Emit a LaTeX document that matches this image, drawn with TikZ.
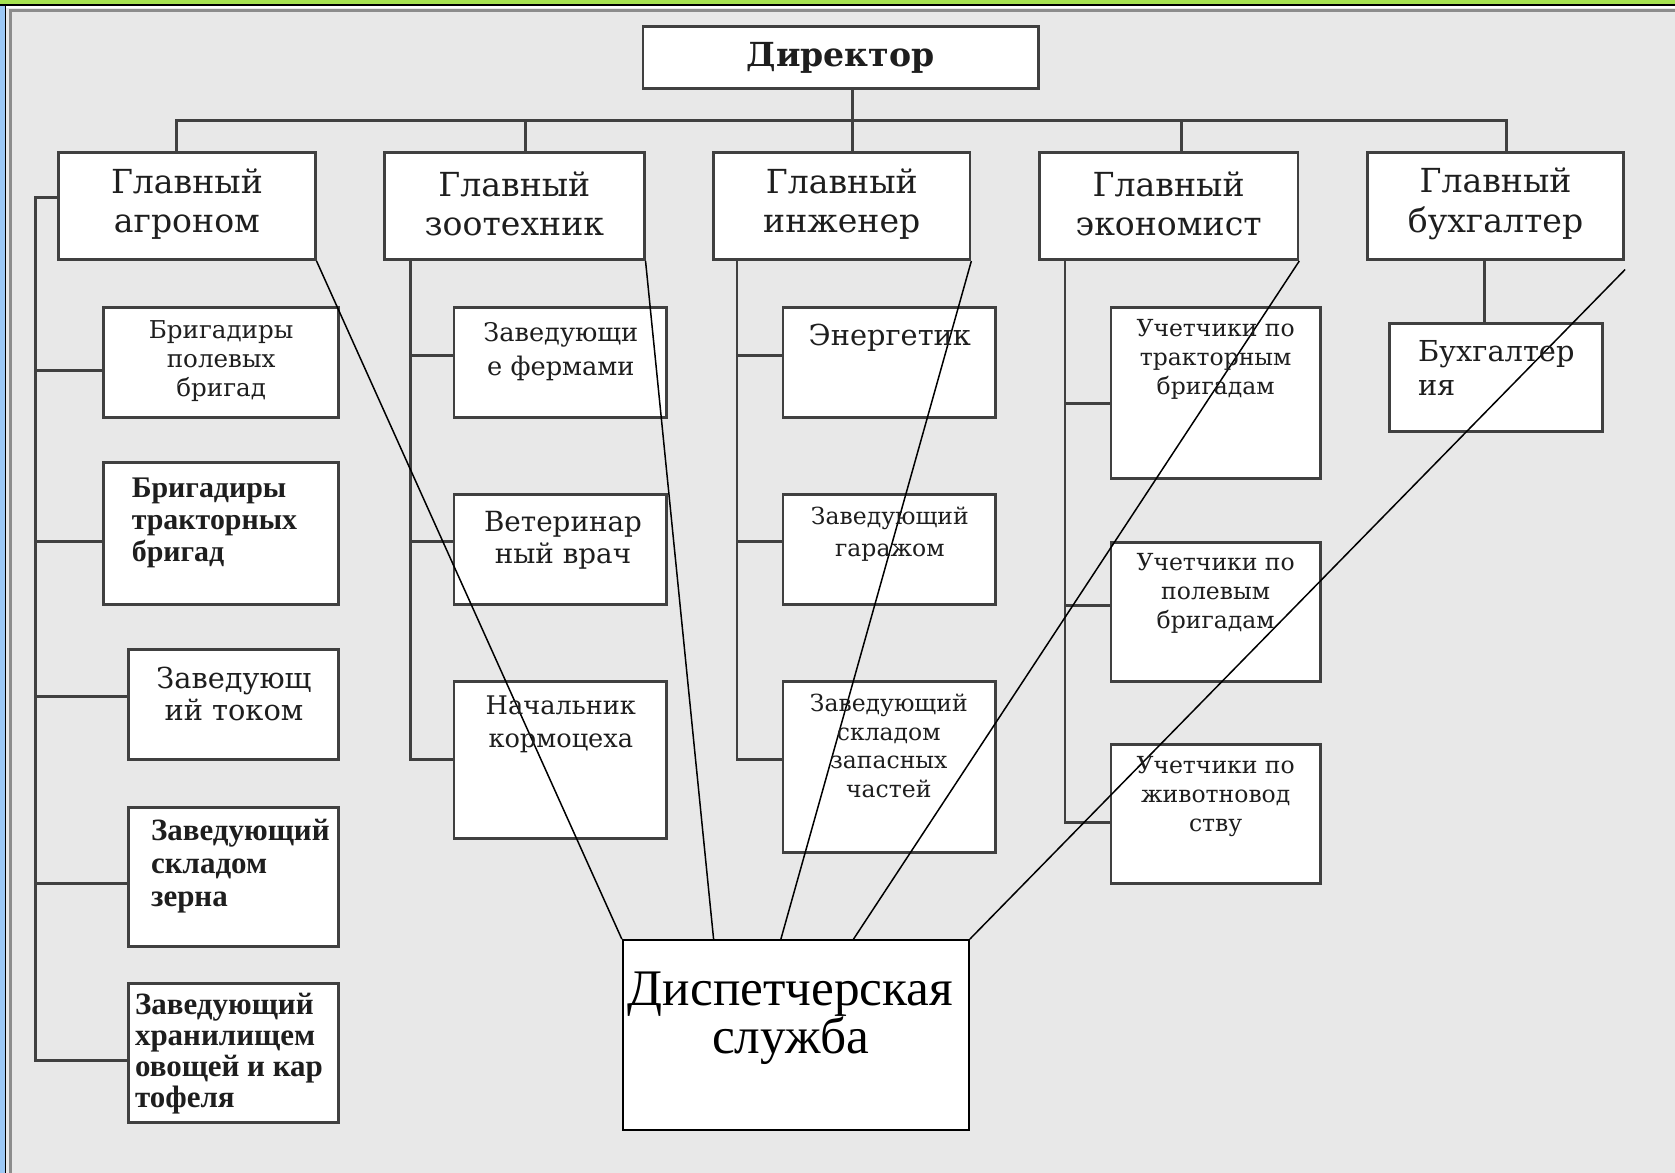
\documentclass[tikz,border=0pt]{standalone}
\usepackage{fontspec}
\setmainfont{DejaVu Serif}
\newfontfamily\lserif{Liberation Serif}
\usetikzlibrary{fit}
\definecolor{bgc}{RGB}{232,232,232}
\definecolor{topgreen}{RGB}{166,226,80}
\definecolor{leftblue}{RGB}{156,200,245}
\definecolor{framegray}{RGB}{140,140,140}
\definecolor{boxc}{RGB}{64,64,64}
\definecolor{txtc}{RGB}{30,30,30}
\tikzset{
  bx/.style={draw=boxc, fill=white, line width=1.3pt, inner sep=0pt},
  dbx/.style={draw=black, fill=white, line width=0.9pt, inner sep=0pt},
  ln/.style={draw=boxc, line width=1.3pt},
  dg/.style={draw=black, line width=0.7pt},
  t/.style={text=txtc, inner sep=0pt, align=center},
}
\begin{document}
\begin{tikzpicture}[x=0.5pt,y=-0.5pt]
\useasboundingbox (0,0) rectangle (1568,1098);
% frame
\fill[bgc] (0,0) rectangle (1568,1098);
\fill[leftblue] (0,0) rectangle (4.5,1098);
\fill[black] (4.5,0) rectangle (6,1098);
\fill[topgreen] (0,0) rectangle (1568,3.7);
\fill[black] (0,3.7) rectangle (1568,5.6);
\fill[white] (6,5.6) rectangle (1568,7.2);
\draw[framegray, line width=1.5pt] (9.5,1098) -- (9.5,9.5) -- (1568,9.5);

% boxes
\node[bx, fit={(602,25) (972,83)}] (dir) {};
\node[bx, fit={(55,143) (295,243)}] (g1) {};
\node[bx, fit={(360,143) (603,243)}] (g2) {};
\node[bx, fit={(668,143) (908,243)}] (g3) {};
\node[bx, fit={(973,143) (1215,243)}] (g4) {};
\node[bx, fit={(1280,143) (1520,243)}] (g5) {};
\node[bx, fit={(97,288) (317,391)}] (a1) {};
\node[bx, fit={(97,433) (317,566)}] (a2) {};
\node[bx, fit={(120,608) (317,711)}] (a3) {};
\node[bx, fit={(120,756) (317,886)}] (a4) {};
\node[bx, fit={(120,921) (317,1051)}] (a5) {};
\node[bx, fit={(425,288) (624,391)}] (z1) {};
\node[bx, fit={(425,463) (624,566)}] (z2) {};
\node[bx, fit={(425,638) (624,785)}] (z3) {};
\node[bx, fit={(733,288) (932,391)}] (e1) {};
\node[bx, fit={(733,463) (932,566)}] (e2) {};
\node[bx, fit={(733,638) (932,798)}] (e3) {};
\node[bx, fit={(1040,288) (1236,448)}] (k1) {};
\node[bx, fit={(1040,508) (1236,638)}] (k2) {};
\node[bx, fit={(1040,697) (1236,827)}] (k3) {};
\node[bx, fit={(1301,303) (1500,404)}] (b1) {};
\node[dbx, fit={(583,880) (907,1058)}] (disp) {};

% tree connectors
\draw[ln] ([xshift=5.5pt]dir.south) -- ([xshift=5.5pt]dir.south |- 0,113);
\draw[ln] (g1.north -| 165,0) |- (1410,113) -- (g5.north -| 1410,0);
\draw[ln] (g2.north -| 492,0) -- (492,113);
\draw[ln] (g3.north -| 798,0) -- (798,113);
\draw[ln] (g4.north -| 1106,0) -- (1106,113);
% agronom
\draw[ln] (g1.west |- 0,185) -- (33,185) -- (33,993) -- (a5.west |- 0,993);
\draw[ln] (33,347) -- (a1.west |- 0,347);
\draw[ln] (33,507) -- (a2.west |- 0,507);
\draw[ln] (33,652) -- (a3.west |- 0,652);
\draw[ln] (33,827) -- (a4.west |- 0,827);
% zootech
\draw[ln] (g2.south -| 384,0) -- (384,711) -- (z3.west |- 0,711);
\draw[ln] (384,333) -- (z1.west |- 0,333);
\draw[ln] (384,507) -- (z2.west |- 0,507);
% engineer
\draw[ln] (g3.south -| 690,0) -- (690,711) -- (e3.west |- 0,711);
\draw[ln] (690,333) -- (e1.west |- 0,333);
\draw[ln] (690,507) -- (e2.west |- 0,507);
% economist
\draw[ln] (g4.south -| 997,0) -- (997,770) -- (k3.west |- 0,770);
\draw[ln] (997,378) -- (k1.west |- 0,378);
\draw[ln] (997,567) -- (k2.west |- 0,567);
% accountant
\draw[ln] (g5.south -| 1390,0) -- (b1.north -| 1390,0);

% diagonals to dispatch
\draw[dg] (g1.south east) -- (disp.north west);
\draw[dg] (g2.south east) -- (disp.north -| 668,0);
\draw[dg] (g3.south east) -- (disp.north -| 731,0);
\draw[dg] (g4.south east) -- (disp.north -| 799,0);
\draw[dg] ([yshift=-4pt]g5.south east) -- (disp.north east);

% texts
\node[t, font=\fontsize{15.5}{18.5}\selectfont\bfseries] (dirt) at (dir.center) {Директор};
\node[t, font=\fontsize{15.5}{18.5}\selectfont] (g1t) at ([yshift=1pt]g1.center) {Главный\\агроном};
\node[t, font=\fontsize{15.5}{18.5}\selectfont] (g2t) at ([yshift=1pt]g2.center) {Главный\\зоотехник};
\node[t, font=\fontsize{15.5}{18.5}\selectfont] (g3t) at ([yshift=1pt]g3.center) {Главный\\инженер};
\node[t, font=\fontsize{15.5}{18.5}\selectfont] (g4t) at ([yshift=1pt]g4.center) {Главный\\экономист};
\node[t, font=\fontsize{15.5}{18.5}\selectfont] (g5t) at ([yshift=1pt]g5.center) {Главный\\бухгалтер};

\node[t, anchor=north, font=\fontsize{11.5}{13.5}\selectfont] (a1t) at (207,300) {Бригадиры\\полевых\\бригад};
\node[t, anchor=north west, align=left, font=\lserif\bfseries\fontsize{14}{15}\selectfont] (a2t) at (123,447) {Бригадиры\\тракторных\\бригад};
\node[t, anchor=north, font=\fontsize{13.5}{15}\selectfont] (a3t) at (219,624) {Заведующ\\ий током};
\node[t, anchor=north west, align=left, font=\lserif\bfseries\fontsize{14.5}{15.5}\selectfont] (a4t) at (141,766) {Заведующий\\складом\\зерна};
\node[t, anchor=north west, align=left, font=\lserif\bfseries\fontsize{14.5}{14.5}\selectfont] (a5t) at (126,929) {Заведующий\\хранилищем\\овощей и кар\\тофеля};

\node[t, anchor=north, font=\fontsize{12}{16}\selectfont] (z1t) at (525,301) {Заведующи\\е фермами};
\node[t, anchor=north, font=\fontsize{13}{15}\selectfont] (z2t) at (527,478) {Ветеринар\\ный врач};
\node[t, anchor=north, font=\fontsize{12}{15.5}\selectfont] (z3t) at (525,651) {Начальник\\кормоцеха};

\node[t, anchor=north, font=\fontsize{13.5}{15}\selectfont] (e1t) at (833,303) {Энергетик};
\node[t, anchor=north, font=\fontsize{11}{15}\selectfont] (e2t) at (833,474) {Заведующий\\гаражом};
\node[t, anchor=north, font=\fontsize{11}{13.5}\selectfont] (e3t) at (832,649) {Заведующий\\складом\\запасных\\частей};

\node[t, anchor=north, font=\fontsize{11}{13.5}\selectfont] (k1t) at (1138,299) {Учетчики по\\тракторным\\бригадам};
\node[t, anchor=north, font=\fontsize{11}{13.5}\selectfont] (k2t) at (1138,518) {Учетчики по\\полевым\\бригадам};
\node[t, anchor=north, font=\fontsize{11}{13.5}\selectfont] (k3t) at (1138,708) {Учетчики по\\животновод\\ству};

\node[t, anchor=north west, align=left, font=\fontsize{13.5}{16}\selectfont] (b1t) at (1327,318) {Бухгалтер\\ия};

\node[t, text=black, font=\lserif\fontsize{24}{22.5}\selectfont] (dispt) at (740,953) {Диспетчерская\\служба};
\end{tikzpicture}
\end{document}
